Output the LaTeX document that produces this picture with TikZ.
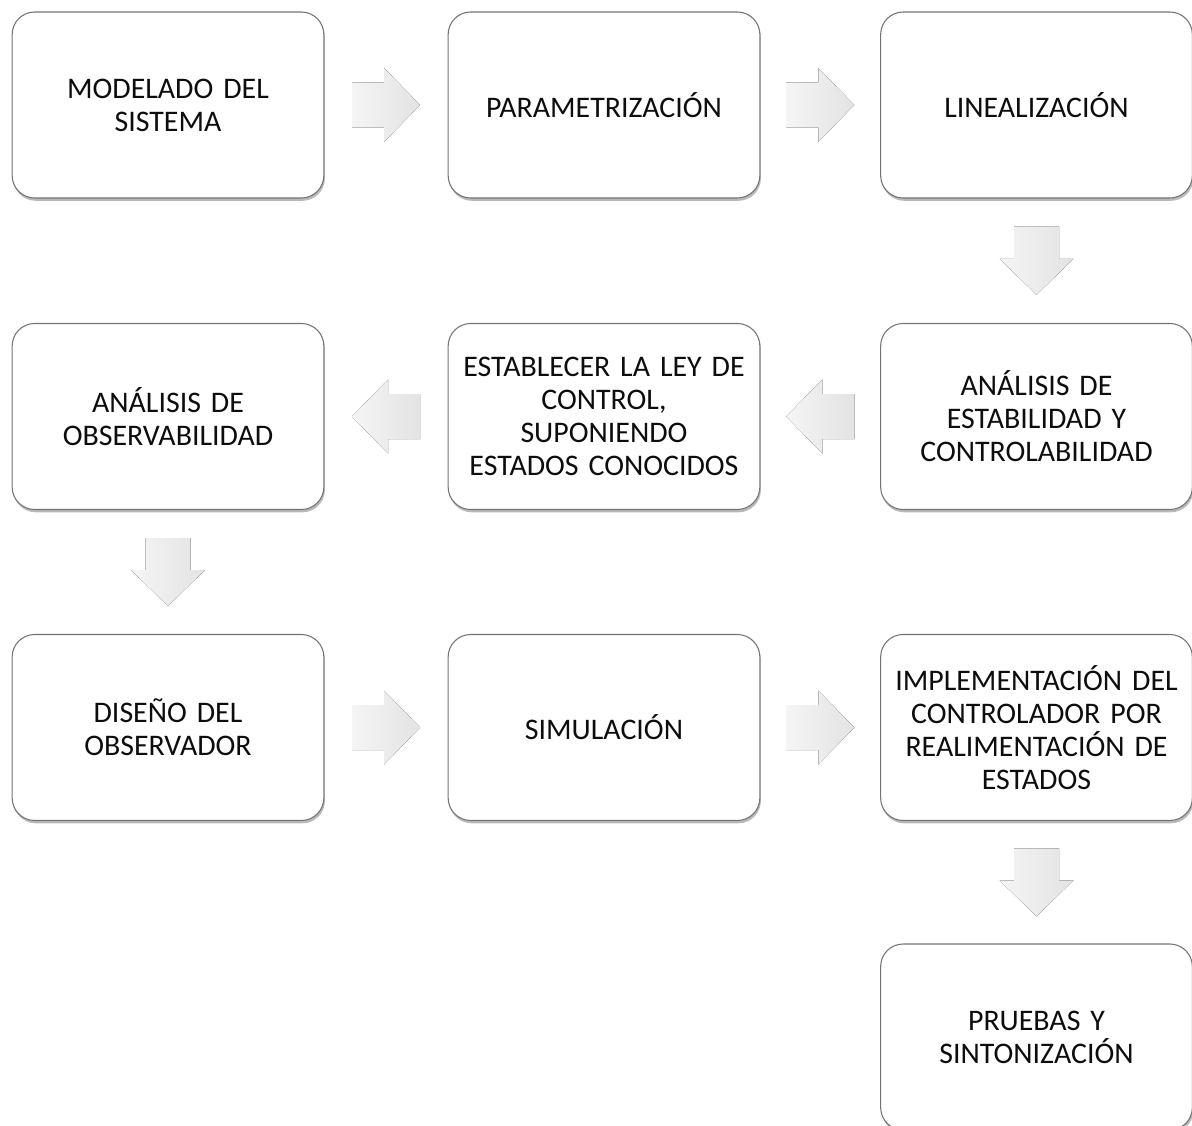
\documentclass[tikz,border=0pt]{standalone}
\usepackage{fontspec}
\setmainfont{Carlito}
\usepackage{xcolor}
\usetikzlibrary{calc, shadows}

\newcommand{\fuentepaso}{\fontsize{17}{18.8}\selectfont\spaceskip=0.16em plus 0.02em\relax}

\tikzset{
    paso/.style={draw=black!55, line width=0.6pt, rounded corners=0.45cm, fill=white,
        minimum width=6.2cm, minimum height=3.72cm, text width=6cm, align=center,
        text=black!95, font=\fuentepaso,
        drop shadow={shadow xshift=0.6pt, shadow yshift=-1.6pt, fill=black!50, opacity=0.55}},
    pics/flecha/.style={code={
        \fill[left color=gray!8, right color=gray!22]
            (-0.68,-0.45) -- (-0.04,-0.45) -- (-0.04,-0.74) -- (0.68,0)
            -- (-0.04,0.74) -- (-0.04,0.45) -- (-0.68,0.45) -- cycle;
    }}
}

\begin{document}
\begin{tikzpicture}
    \useasboundingbox (0,0) rectangle (23.84,-22.52);

    % Fila 1
    \node[paso] (modelado) at (3.36,-2.10) {MODELADO DEL\\SISTEMA};
    \node[paso] (param) at (12.08,-2.10) {PARAMETRIZACIÓN};
    \node[paso] (lineal) at (20.73,-2.10) {LINEALIZACIÓN};

    % Fila 2
    \node[paso] (observ) at (3.36,-8.33) {ANÁLISIS DE\\OBSERVABILIDAD};
    \node[paso] (ley) at (12.08,-8.33) {ESTABLECER LA LEY DE\\CONTROL,\\SUPONIENDO\\ESTADOS CONOCIDOS};
    \node[paso] (analisis) at (20.73,-8.33) {ANÁLISIS DE\\ESTABILIDAD Y\\CONTROLABILIDAD};

    % Fila 3
    \node[paso] (diseno) at (3.36,-14.55) {DISEÑO DEL\\OBSERVADOR};
    \node[paso] (simul) at (12.08,-14.55) {SIMULACIÓN};
    \node[paso] (implem) at (20.73,-14.55) {IMPLEMENTACIÓN DEL\\CONTROLADOR POR\\REALIMENTACIÓN DE\\ESTADOS};

    % Fila 4
    \node[paso] (pruebas) at (20.73,-20.74) {PRUEBAS Y\\SINTONIZACIÓN};

    % Flechas de bloque
    \pic at ($(modelado.east)!0.5!(param.west)$) {flecha};
    \pic at ($(param.east)!0.5!(lineal.west)$) {flecha};
    \pic[rotate=-90] at ($(lineal.south)!0.5!(analisis.north)$) {flecha};
    \pic[rotate=180] at ($(analisis.west)!0.5!(ley.east)$) {flecha};
    \pic[rotate=180] at ($(ley.west)!0.5!(observ.east)$) {flecha};
    \pic[rotate=-90] at ($(observ.south)!0.5!(diseno.north)$) {flecha};
    \pic at ($(diseno.east)!0.5!(simul.west)$) {flecha};
    \pic at ($(simul.east)!0.5!(implem.west)$) {flecha};
    \pic[rotate=-90] at ($(implem.south)!0.5!(pruebas.north)$) {flecha};
\end{tikzpicture}
\end{document}
